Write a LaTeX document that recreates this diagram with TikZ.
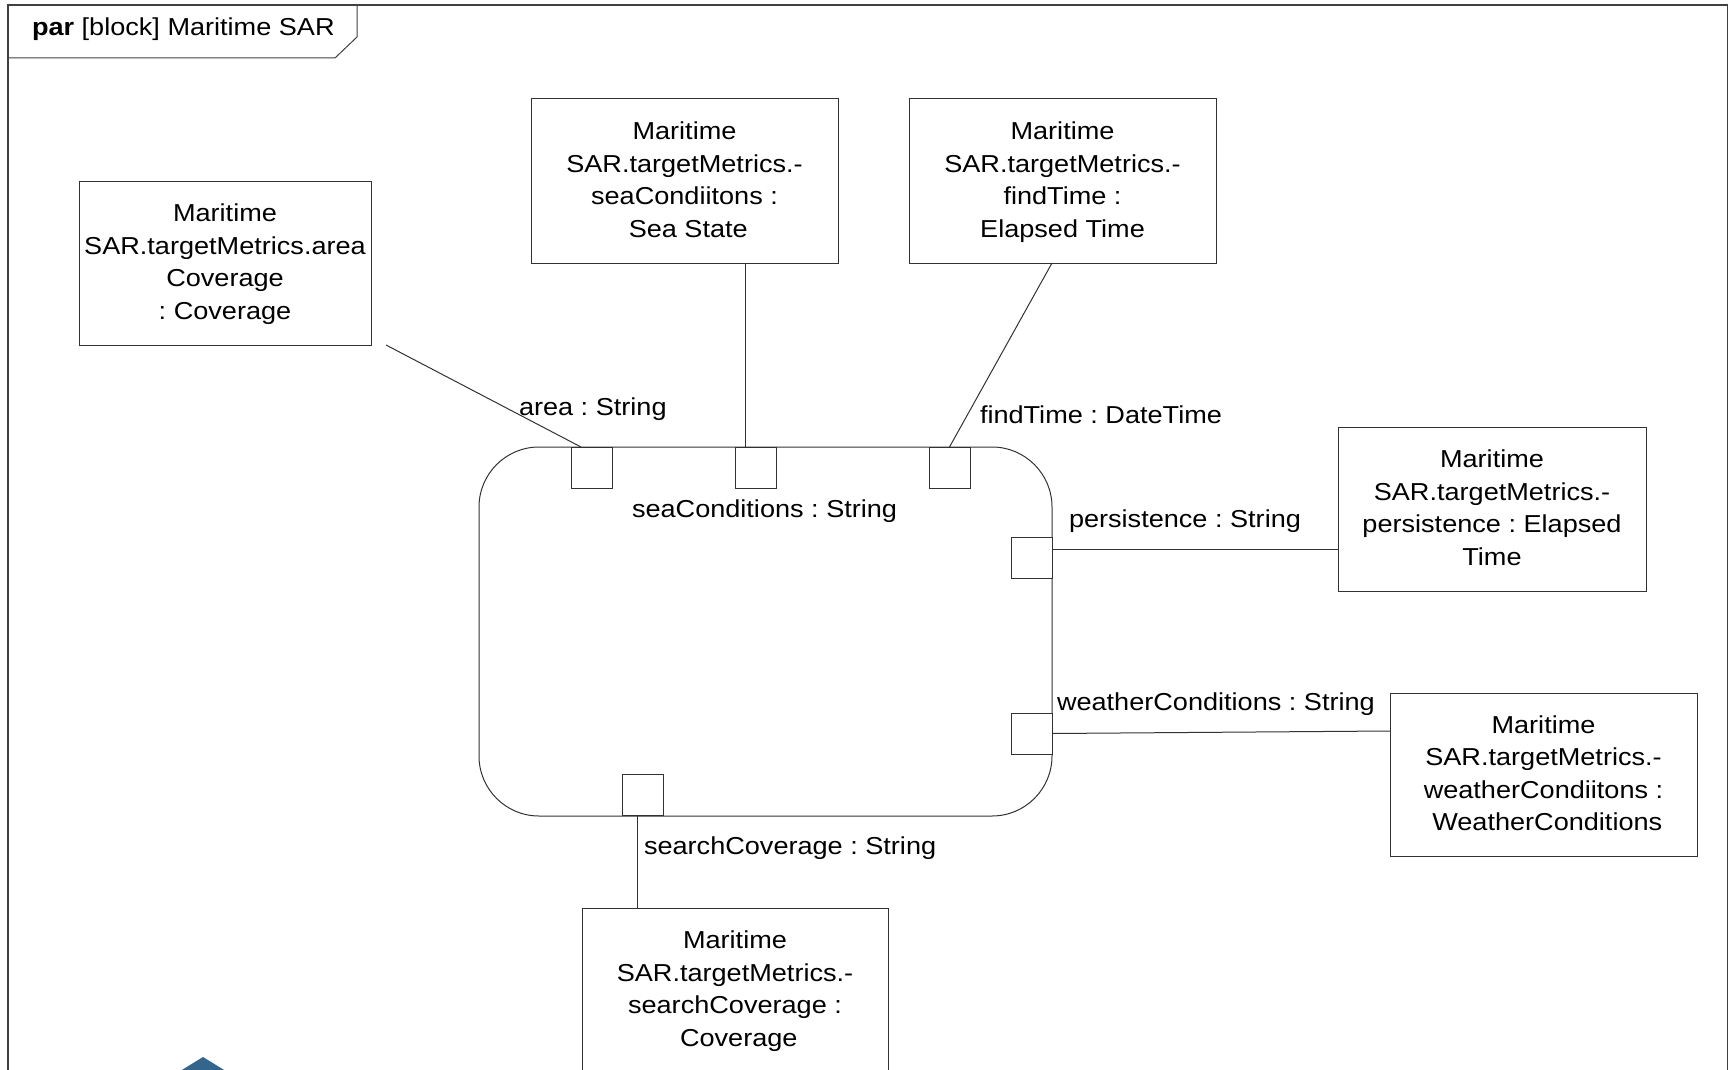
\documentclass[tikz,border=0pt]{standalone}
\usepackage{fontspec}
\setmainfont{Liberation Sans}[FakeStretch=1.106]
\frenchspacing
% invisible strut that fixes every text row to the same height and depth
\newcommand\rowstrut{\rule[-8.75pt]{0pt}{32.5pt}}
\definecolor{logoblue}{RGB}{52,101,140}
\definecolor{edge}{RGB}{50,50,50}
\begin{document}
\begin{tikzpicture}[x=1pt,y=-1pt,
  every node/.style={inner sep=0pt, outer sep=0pt},
  txt/.style={font=\fontsize{24.5}{32.5}\selectfont},
  conn/.style={draw=edge, line width=1pt},
  partbox/.style={txt, draw=edge, line width=1pt, align=center, fill=white},
  port/.style={draw=edge, line width=1pt, fill=white, minimum width=41pt, minimum height=41pt},
  lbl/.style={txt, anchor=base west},
  frame/.style={draw=black!75, line width=1.3pt}]

\useasboundingbox (0,0) rectangle (1729,1070);
\clip (0,0) rectangle (1729,1070);

% diagram frame with its name tab
\draw[frame] (8,1080) -- (8,5) -- (1727.5,5) -- (1727.5,1080);
\draw[frame, line width=1pt] (8,58) -- (335,58) -- (357,37) -- (357,5);
\node[lbl] (title) at (32,36) {\textbf{par} [block] Maritime SAR};

% owning block with rounded corners
\node[draw=edge, line width=1pt, rounded corners=60pt,
      minimum width=573pt, minimum height=369pt] (blk) at (765.5,631.5) {};

% value properties bound to the block
\node[partbox, minimum width=292pt, minimum height=164pt] (areaBox) at (225,263)
  {\rowstrut Maritime\\\rowstrut SAR.targetMetrics.area\\\rowstrut Coverage\\\rowstrut : Coverage};
\node[partbox, minimum width=307pt, minimum height=164pt] (seaBox) at (684.5,181)
  {\rowstrut Maritime\\\rowstrut SAR.targetMetrics.-\\\rowstrut seaCondiitons :\\\rowstrut\ Sea State};
\node[partbox, minimum width=307pt, minimum height=164pt] (findBox) at (1062.5,181)
  {\rowstrut Maritime\\\rowstrut SAR.targetMetrics.-\\\rowstrut findTime :\\\rowstrut Elapsed Time};
\node[partbox, minimum width=308pt, minimum height=164pt] (persBox) at (1492,509)
  {\rowstrut Maritime\\\rowstrut SAR.targetMetrics.-\\\rowstrut persistence : Elapsed\\\rowstrut Time};
\node[partbox, minimum width=307pt, minimum height=163pt] (wBox) at (1543.5,774.5)
  {\rowstrut Maritime\\\rowstrut SAR.targetMetrics.-\\\rowstrut weatherCondiitons :\\\rowstrut\ WeatherConditions};
\node[partbox, minimum width=306pt, minimum height=164pt] (sBox) at (735,990)
  {\rowstrut Maritime\\\rowstrut SAR.targetMetrics.-\\\rowstrut searchCoverage :\\\rowstrut\ Coverage};

% ports on the block border
\node[port] (pArea)    at (591.5,467.5) {};
\node[port] (pSea)     at (755.5,467.5) {};
\node[port] (pFind)    at (949.5,467.5) {};
\node[port] (pPers)    at (1031.5,557.5) {};
\node[port] (pWeather) at (1031.5,733.5) {};
\node[port] (pSearch)  at (643,795) {};

% binding connectors
\coordinate (areaEnd) at (386,345);
\draw[conn] (areaEnd) -- ([xshift=10pt]pArea.north west);
\draw[conn] ([xshift=10pt]pSea.north west) -- ([xshift=10pt]pSea.north west |- seaBox.south);
\draw[conn] ([xshift=-10.5pt]findBox.south) -- (pFind.north);
\draw[conn] ([yshift=8.5pt]pPers.east) -- ([yshift=8.5pt]pPers.east -| persBox.west);
\draw[conn] (pWeather.east) -- ([yshift=43.5pt]wBox.west);
\draw[conn] ([xshift=-5.5pt]pSearch.south) -- ([xshift=-5.5pt]pSearch.south |- sBox.north);

% port labels
\node[lbl] (lArea)    at (519,415)  {area : String};
\node[lbl] (lSea)     at (632,517)  {seaConditions : String};
\node[lbl] (lFind)    at (980,423)  {findTime : DateTime};
\node[lbl] (lPers)    at (1069,527) {persistence : String};
\node[lbl] (lWeather) at (1057,710) {weatherConditions : String};
\node[lbl] (lSearch)  at (644,854)  {searchCoverage : String};

% emblem peeking in at the lower edge
\fill[logoblue] (203,1057) -- (229,1073) -- (177,1073) -- cycle;
\end{tikzpicture}
\end{document}
